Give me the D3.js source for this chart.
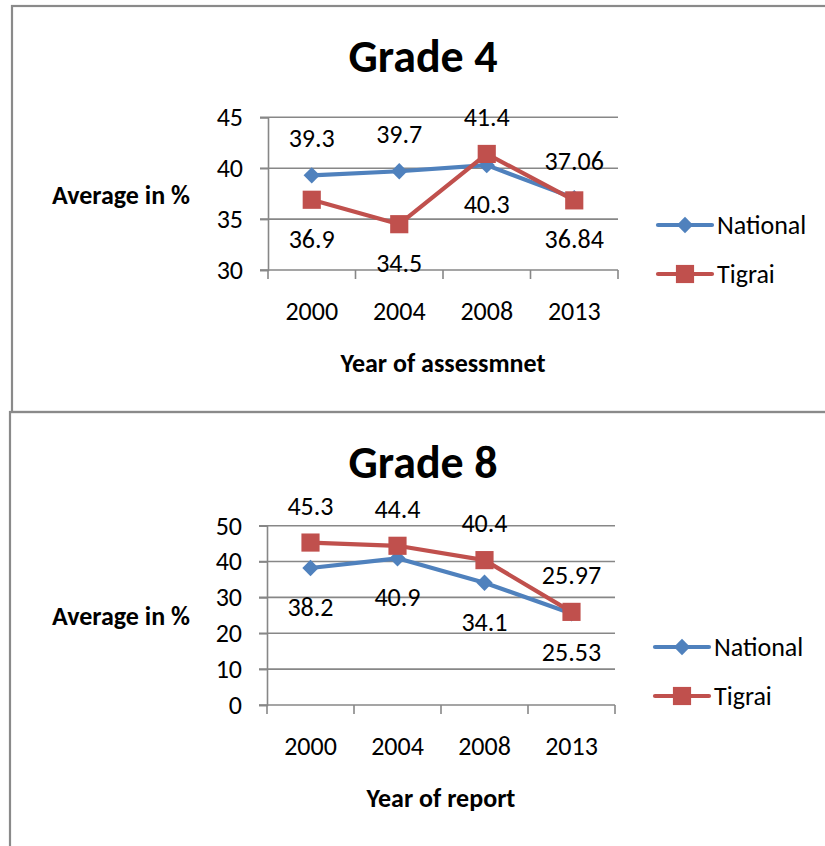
<!DOCTYPE html>
<html>
<head>
<meta charset="utf-8">
<script src="https://cdn.jsdelivr.net/npm/d3@7"></script>
<style>
  html, body { margin: 0; padding: 0; background: #fff; }
  svg { display: block; }
  text { font-family: Carlito, Lato, "Open Sans", sans-serif; fill: #000; }
</style>
</head>
<body>
<svg id="chart" width="825" height="846"></svg>
<script>
// Assessment years (shared by both panels)
const years = ["2000", "2004", "2008", "2013"];
const seriesNames = ["National", "Tigrai"];

// Grade 4 averages (%)
const grade4National = [39.3, 39.7, 40.3, 37.06];
const grade4Tigrai = [36.9, 34.5, 41.4, 36.84];
const grade4Ticks = [30, 35, 40, 45];

// Grade 8 averages (%)
const grade8National = [38.2, 40.9, 34.1, 25.53];
const grade8Tigrai = [45.3, 44.4, 40.4, 25.97];
const grade8Ticks = [0, 10, 20, 30, 40, 50];

const colors = { National: "#4F81BD", Tigrai: "#C0504D" };
const gridColor = "#878787";
const numSize = "26px";
const boldSize = "26px";

const svg = d3.select("#chart");

// Panel frames
svg.append("rect")
  .attr("x", 12).attr("y", 6).attr("width", 830).attr("height", 406)
  .attr("fill", "none").attr("stroke", "#8a8a8a").attr("stroke-width", 2.2);
svg.append("rect")
  .attr("x", 10).attr("y", 412).attr("width", 830).attr("height", 450)
  .attr("fill", "none").attr("stroke", "#8a8a8a").attr("stroke-width", 2.2);

function markerSymbol(name) {
  return name === "National"
    ? d3.symbol().type(d3.symbolDiamond2).size(170)
    : d3.symbol().type(d3.symbolSquare).size(330);
}

function drawPanel(opt) {
  const g = svg.append("g");
  const x = d3.scaleBand().domain(years).range([opt.left, opt.right]);
  const y = d3.scaleLinear().domain([opt.ticks[0], opt.ticks[opt.ticks.length - 1]])
    .range([opt.bottom, opt.top]);

  // Title
  g.append("text")
    .attr("x", 423).attr("y", opt.titleY)
    .attr("text-anchor", "middle")
    .style("font-size", "46px").style("font-weight", "bold")
    .text(opt.title);

  // Horizontal gridlines (bottom one is the category axis)
  g.selectAll("line.grid").data(opt.ticks).join("line")
    .attr("x1", opt.left - 8).attr("x2", opt.right)
    .attr("y1", d => y(d)).attr("y2", d => y(d))
    .attr("stroke", gridColor).attr("stroke-width", 1.6);

  // Value axis
  const yAxis = g.append("g")
    .attr("transform", `translate(${opt.left},0)`)
    .call(d3.axisLeft(y).tickValues(opt.ticks).tickSize(8).tickPadding(17).tickFormat(d3.format("d")));
  yAxis.select(".domain").attr("stroke", gridColor).attr("stroke-width", 1.6);
  yAxis.selectAll(".tick line").attr("stroke", gridColor).attr("stroke-width", 1.6);
  yAxis.selectAll(".tick text").style("font-size", numSize).attr("fill", "#000")
    .style("font-family", "Carlito, Lato, sans-serif");

  // Category boundaries (tick marks between years)
  const bounds = years.map(d => x(d)).concat([opt.right]);
  g.selectAll("line.ctick").data(bounds).join("line")
    .attr("x1", d => d).attr("x2", d => d)
    .attr("y1", opt.bottom).attr("y2", opt.bottom + 9)
    .attr("stroke", gridColor).attr("stroke-width", 1.6);

  // Year labels
  g.selectAll("text.year").data(years).join("text")
    .attr("x", d => x(d) + x.bandwidth() / 2)
    .attr("y", opt.bottom + 50)
    .attr("text-anchor", "middle")
    .style("font-size", numSize)
    .text(d => d);

  // Axis titles
  g.append("text")
    .attr("x", (opt.left + opt.right) / 2).attr("y", opt.bottom + 102)
    .attr("text-anchor", "middle")
    .style("font-size", boldSize).style("font-weight", "bold")
    .text(opt.xTitle);
  g.append("text")
    .attr("x", 121).attr("y", (opt.top + opt.bottom) / 2 + 10)
    .attr("text-anchor", "middle")
    .style("font-size", boldSize).style("font-weight", "bold")
    .text("Average in %");

  const cx = d => x(d) + x.bandwidth() / 2;
  const series = [
    { name: "National", values: opt.national, other: opt.tigrai },
    { name: "Tigrai", values: opt.tigrai, other: opt.national }
  ];
  const line = d3.line().x(d => cx(d.year)).y(d => y(d.value));

  series.forEach(s => {
    const pts = years.map((yr, i) => ({ year: yr, value: s.values[i], other: s.other[i] }));
    g.append("path").datum(pts)
      .attr("d", line)
      .attr("fill", "none")
      .attr("stroke", colors[s.name])
      .attr("stroke-width", 4.2)
      .attr("stroke-linejoin", "round");
    g.selectAll(null).data(pts).join("path")
      .attr("transform", d => `translate(${cx(d.year)},${y(d.value)})`)
      .attr("d", markerSymbol(s.name))
      .attr("fill", colors[s.name]);
    s.pts = pts;
  });

  // Data labels: placed on the side away from the other series
  series.forEach(s => {
    g.selectAll(null).data(s.pts).join("text")
      .attr("x", d => cx(d.year))
      .attr("y", d => y(d.value) + (d.value >= d.other ? -28 : 48))
      .attr("text-anchor", "middle")
      .style("font-size", numSize)
      .text(d => d.value);
  });

  // Legend
  seriesNames.forEach((name, i) => {
    const ly = opt.legendY[i];
    g.append("line")
      .attr("x1", opt.legendX).attr("x2", opt.legendX + 54)
      .attr("y1", ly).attr("y2", ly)
      .attr("stroke", colors[name]).attr("stroke-width", 4.2)
      .attr("stroke-linecap", "round");
    g.append("path")
      .attr("transform", `translate(${opt.legendX + 27},${ly})`)
      .attr("d", markerSymbol(name)).attr("fill", colors[name]);
    g.append("text")
      .attr("x", opt.legendX + 59).attr("y", ly + 9)
      .style("font-size", numSize)
      .text(name);
  });
}

drawPanel({
  title: "Grade 4", titleY: 72,
  left: 268, right: 618, top: 117.3, bottom: 270,
  ticks: grade4Ticks, national: grade4National, tigrai: grade4Tigrai,
  xTitle: "Year of assessmnet",
  legendX: 658, legendY: [225, 274]
});

drawPanel({
  title: "Grade 8", titleY: 478,
  left: 267, right: 615, top: 525.7, bottom: 705,
  ticks: grade8Ticks, national: grade8National, tigrai: grade8Tigrai,
  xTitle: "Year of report",
  legendX: 655, legendY: [647, 696]
});
</script>
</body>
</html>
